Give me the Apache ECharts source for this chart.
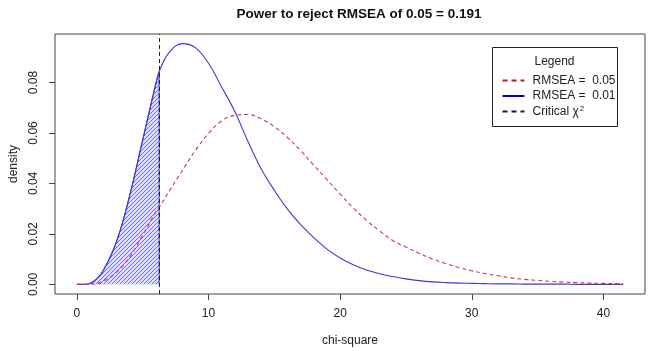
<!DOCTYPE html>
<html>
<head>
<meta charset="utf-8">
<script src="https://cdn.jsdelivr.net/npm/echarts@6.0.0/dist/echarts.min.js"></script>
<style>
  html, body { margin: 0; padding: 0; background: #fff; }
  #main { width: 648px; height: 351px; }
</style>
</head>
<body>
<div id="main"></div>
<script>
// chi-square grid and the two densities
var chiSq = [0, 0.5, 1, 1.5, 2, 3, 4, 5, 6, 6.25, 7, 8, 9, 10, 11, 12, 13, 14, 15, 16, 17, 18, 19, 20,
  21, 22, 23, 24, 25, 26, 27, 28, 29, 30, 31, 32, 33, 34, 35, 36, 37, 38, 39, 40, 41, 41.5];
var densRmsea05 = [0, 0, 0.0001, 0.0003, 0.0012, 0.0048, 0.0108, 0.0195, 0.0288, 0.0305, 0.0368, 0.0450,
  0.0530, 0.0598, 0.0648, 0.0670, 0.0673, 0.0656, 0.0625, 0.0582, 0.0530, 0.0472, 0.0415, 0.0358,
  0.0303, 0.0254, 0.0212, 0.0174, 0.0148, 0.0123, 0.0101, 0.0083, 0.0067, 0.0054, 0.0043, 0.0034,
  0.0026, 0.0020, 0.0016, 0.0012, 0.0009, 0.0007, 0.0005, 0.0004, 0.0003, 0.0003];
var densRmsea01 = [0, 0, 0.0004, 0.0022, 0.0054, 0.0168, 0.0349, 0.0572, 0.0795, 0.0843, 0.0918, 0.0954,
  0.0938, 0.0876, 0.0782, 0.0685, 0.0566, 0.0458, 0.0373, 0.0298, 0.0237, 0.0185, 0.0140, 0.0105,
  0.0078, 0.0057, 0.0042, 0.0031, 0.0022, 0.0015, 0.0010, 0.0007, 0.0005, 0.0004, 0.0003, 0.0002,
  0.0002, 0.0001, 0.0001, 0.0001, 0.0001, 0, 0, 0, 0, 0];
var critValue = 6.25;
var xTicks = [0, 10, 20, 30, 40];
var yTicks = [0, 0.02, 0.04, 0.06, 0.08];

var FONT = "Liberation Sans, Arial, sans-serif";

function pairs(xs, ys) {
  return xs.map(function (x, i) { return [x, ys[i]]; });
}

// area under the RMSEA = 0.01 curve left of the critical value
var shadeData = pairs(chiSq, densRmsea01).filter(function (p) { return p[0] <= critValue; });
shadeData.push([critValue, 0]);

// diagonal hatching like R's polygon(density=...)
function hatchPattern() {
  var s = 4;
  var c = document.createElement("canvas");
  c.width = s; c.height = s;
  var ctx = c.getContext("2d");
  ctx.fillStyle = "rgba(110, 110, 255, 0.22)";
  ctx.fillRect(0, 0, s, s);
  ctx.strokeStyle = "rgba(50, 50, 235, 0.85)";
  ctx.lineWidth = 0.8;
  ctx.beginPath();
  ctx.moveTo(0, s); ctx.lineTo(s, 0);
  ctx.stroke();
  return { image: c, repeat: "repeat" };
}

var chart = echarts.init(document.getElementById("main"), null, { renderer: "canvas" });

var option = {
  animation: false,
  backgroundColor: "#fff",
  title: {
    text: "Power to reject RMSEA of 0.05 = 0.191",
    left: 354,
    textAlign: "center",
    top: 2,
    textStyle: { fontFamily: FONT, fontSize: 13.5, fontWeight: "bold", color: "#111" }
  },
  grid: {
    left: 55, right: 3, top: 34, bottom: 57,
    outerBoundsMode: "none",
    containLabel: false,
    show: true, borderColor: "#444", borderWidth: 1, backgroundColor: "transparent"
  },
  xAxis: {
    type: "value",
    min: -1.66, max: 43.16,
    name: "chi-square",
    nameLocation: "middle",
    nameGap: 41,
    nameTextStyle: { fontFamily: FONT, fontSize: 12, color: "#222" },
    axisLine: { show: false, onZero: false },
    splitLine: { show: false },
    axisTick: { show: true, length: 6, customValues: xTicks, lineStyle: { color: "#444" } },
    axisLabel: {
      customValues: xTicks, margin: 14,
      fontFamily: FONT, fontSize: 12, color: "#222"
    }
  },
  yAxis: {
    type: "value",
    min: -0.0038, max: 0.0992,
    name: "density",
    nameLocation: "middle",
    nameGap: 35,
    nameRotate: 90,
    nameTextStyle: { fontFamily: FONT, fontSize: 12, color: "#222" },
    axisLine: { show: false, onZero: false },
    splitLine: { show: false },
    axisTick: { show: true, length: 6, customValues: yTicks, lineStyle: { color: "#444" } },
    axisLabel: {
      customValues: yTicks, rotate: 90, margin: 15,
      fontFamily: FONT, fontSize: 12, color: "#222",
      formatter: function (v) { return v.toFixed(2); }
    }
  },
  series: [
    {
      name: "shade",
      type: "line",
      data: shadeData,
      smooth: 0.4,
      showSymbol: false,
      z: 1,
      lineStyle: { color: "#2a2ac8", width: 1 },
      areaStyle: { color: hatchPattern(), opacity: 1 }
    },
    {
      name: "RMSEA = 0.01",
      type: "line",
      data: pairs(chiSq, densRmsea01),
      smooth: 0.4,
      showSymbol: false,
      z: 2,
      lineStyle: { color: "#3a3adc", width: 1.1 }
    },
    {
      name: "RMSEA = 0.05",
      type: "line",
      data: pairs(chiSq, densRmsea05),
      smooth: 0.4,
      showSymbol: false,
      z: 3,
      lineStyle: { color: "#d3305a", width: 1.1, type: [4, 3] },
      markLine: {
        silent: true,
        symbol: "none",
        label: { show: false },
        lineStyle: { color: "#222", width: 1, type: [4, 3] },
        data: [{ xAxis: critValue }]
      }
    }
  ],
  graphic: [
    {
      type: "group",
      left: 492, top: 47,
      children: [
        { type: "rect", shape: { x: 0, y: 0, width: 125, height: 79 },
          style: { fill: "#fff", stroke: "#222", lineWidth: 1 } },
        { type: "text", x: 62, y: 14,
          style: { text: "Legend", font: "12px " + FONT, fill: "#222", align: "center", verticalAlign: "middle" } },
        { type: "line", shape: { x1: 10, y1: 33, x2: 32, y2: 33 },
          style: { stroke: "#c0102a", lineWidth: 2, lineDash: [5, 4] } },
        { type: "text", x: 40, y: 33,
          style: { text: "RMSEA =  0.05", font: "12px " + FONT, fill: "#222", verticalAlign: "middle" } },
        { type: "line", shape: { x1: 10, y1: 48.5, x2: 32, y2: 48.5 },
          style: { stroke: "#0000cc", lineWidth: 2 } },
        { type: "text", x: 40, y: 48.5,
          style: { text: "RMSEA =  0.01", font: "12px " + FONT, fill: "#222", verticalAlign: "middle" } },
        { type: "line", shape: { x1: 10, y1: 64, x2: 32, y2: 64 },
          style: { stroke: "#1a1a40", lineWidth: 2, lineDash: [5, 4] } },
        { type: "text", x: 40, y: 64,
          style: {
            text: "Critical χ{sup|2}", font: "12px " + FONT, fill: "#222", verticalAlign: "middle",
            rich: { sup: { fontSize: 8, fontFamily: FONT, verticalAlign: "top", padding: [0, 0, 6, 1] } }
          } }
      ]
    }
  ]
};

chart.setOption(option);
</script>
</body>
</html>
